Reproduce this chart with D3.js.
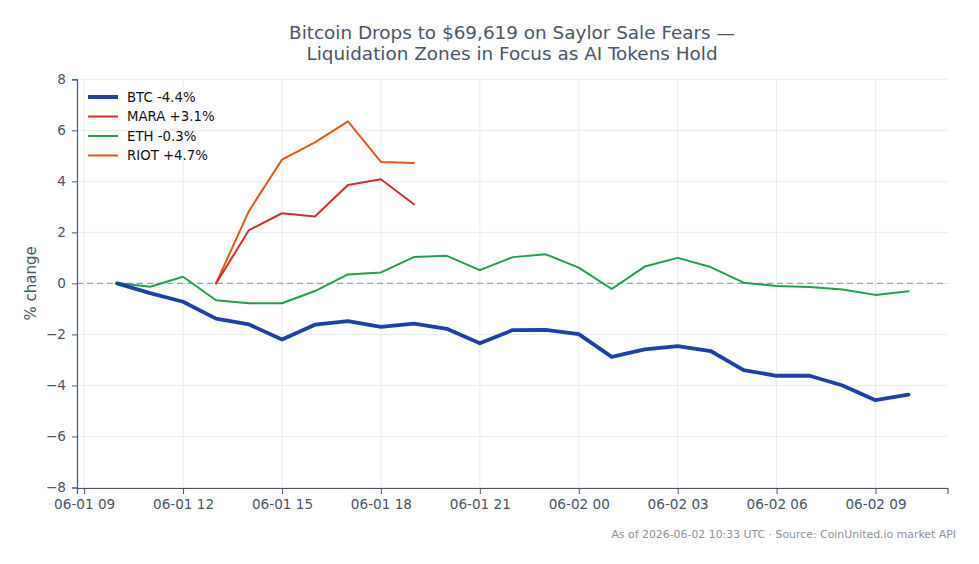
<!DOCTYPE html>
<html>
<head>
<meta charset="utf-8">
<script src="https://cdn.jsdelivr.net/npm/d3@7"></script>
<style>
html,body{margin:0;padding:0;background:#fff;}
svg{display:block;font-family:"DejaVu Sans",sans-serif;}
</style>
</head>
<body>
<svg id="chart" width="979" height="564"></svg>
<script>
// ---- data ----
const btcTimes = ["2026-06-01T10:00Z","2026-06-01T11:00Z","2026-06-01T12:00Z","2026-06-01T13:00Z","2026-06-01T14:00Z","2026-06-01T15:00Z","2026-06-01T16:00Z","2026-06-01T17:00Z","2026-06-01T18:00Z","2026-06-01T19:00Z","2026-06-01T20:00Z","2026-06-01T21:00Z","2026-06-01T22:00Z","2026-06-01T23:00Z","2026-06-02T00:00Z","2026-06-02T01:00Z","2026-06-02T02:00Z","2026-06-02T03:00Z","2026-06-02T04:00Z","2026-06-02T05:00Z","2026-06-02T06:00Z","2026-06-02T07:00Z","2026-06-02T08:00Z","2026-06-02T09:00Z","2026-06-02T10:00Z"];
const btcValues = [0.0,-0.38,-0.72,-1.38,-1.61,-2.2,-1.62,-1.48,-1.70,-1.58,-1.78,-2.35,-1.83,-1.82,-1.99,-2.88,-2.59,-2.46,-2.65,-3.40,-3.62,-3.62,-4.0,-4.58,-4.36];
const ethValues = [0.02,-0.13,0.26,-0.66,-0.78,-0.78,-0.30,0.35,0.43,1.03,1.08,0.52,1.03,1.14,0.62,-0.22,0.66,1.0,0.64,0.03,-0.1,-0.14,-0.24,-0.45,-0.31];
const stockTimes = ["2026-06-01T13:00Z","2026-06-01T14:00Z","2026-06-01T15:00Z","2026-06-01T16:00Z","2026-06-01T17:00Z","2026-06-01T18:00Z","2026-06-01T19:00Z"];
const maraValues = [0.0,2.09,2.75,2.62,3.86,4.08,3.10];
const riotValues = [0.0,2.84,4.85,5.53,6.35,4.76,4.72];
const seriesNames = ["BTC -4.4%","MARA +3.1%","ETH -0.3%","RIOT +4.7%"];
const yTicks = [-8,-6,-4,-2,0,2,4,6,8];
const xTickTimes = ["2026-06-01T09:00Z","2026-06-01T12:00Z","2026-06-01T15:00Z","2026-06-01T18:00Z","2026-06-01T21:00Z","2026-06-02T00:00Z","2026-06-02T03:00Z","2026-06-02T06:00Z","2026-06-02T09:00Z"];
const xDomain = ["2026-06-01T08:47Z","2026-06-02T11:11Z"];
const titleLines = ["Bitcoin Drops to $69,619 on Saylor Sale Fears —","Liquidation Zones in Focus as AI Tokens Hold"];
const yLabel = "% change";
const sourceNote = "As of 2026-06-02 10:33 UTC · Source: CoinUnited.io market API";

// ---- layout ----
const svg = d3.select("#chart");
const margin = {left:77, right:979-947.5, top:79.3, bottom:564-487.5};
const W = 979, H = 564;
const parse = s => new Date(s);
const x = d3.scaleUtc().domain(xDomain.map(parse)).range([margin.left, W-margin.right]);
const y = d3.scaleLinear().domain([-8,8]).range([H-margin.bottom, margin.top]);
const textColor = "#4a5568";
const axisColor = "#4a5668";
const gridColor = "#e8ebf0";

// grid
const g = svg.append("g");
g.selectAll(".gy").data(yTicks).join("line")
  .attr("x1", margin.left).attr("x2", W-margin.right)
  .attr("y1", d=>y(d)).attr("y2", d=>y(d))
  .attr("stroke", gridColor).attr("stroke-width",1);
g.selectAll(".gx").data(xTickTimes.map(parse)).join("line")
  .attr("x1", d=>x(d)).attr("x2", d=>x(d))
  .attr("y1", margin.top).attr("y2", H-margin.bottom)
  .attr("stroke", gridColor).attr("stroke-width",1);

// zero line
svg.append("line")
  .attr("x1", margin.left).attr("x2", W-margin.right)
  .attr("y1", y(0)).attr("y2", y(0))
  .attr("stroke","#94a3b8").attr("stroke-width",1.2).attr("stroke-dasharray","6,4");

// axes
const fmtTime = d3.utcFormat("%m-%d %H");
const xAxis = d3.axisBottom(x).tickValues(xTickTimes.map(parse)).tickFormat(fmtTime).tickSize(6).tickPadding(5);
const yAxis = d3.axisLeft(y).tickValues(yTicks).tickFormat(d => d<0 ? "\u2212"+Math.abs(d) : String(d)).tickSize(5).tickPadding(6);
const gx = svg.append("g").attr("transform",`translate(0,${H-margin.bottom+0.5})`).call(xAxis);
const gy = svg.append("g").attr("transform",`translate(${margin.left},0)`).call(yAxis);
[gx,gy].forEach(a=>{
  a.select(".domain").attr("stroke",axisColor).attr("stroke-width",1.2);
  a.selectAll(".tick line").attr("stroke",axisColor);
  a.selectAll(".tick text").attr("fill",textColor).style("font-size","13.6px").style("font-family","DejaVu Sans");
});

// lines
const series = [
  {name:seriesNames[0], times:btcTimes, values:btcValues, color:"#1e40af", width:3.8},
  {name:seriesNames[1], times:stockTimes, values:maraValues, color:"#d0302f", width:2},
  {name:seriesNames[2], times:btcTimes, values:ethValues, color:"#1fa04a", width:2},
  {name:seriesNames[3], times:stockTimes, values:riotValues, color:"#e4581a", width:2}
];
const line = d3.line().x(d=>x(d[0])).y(d=>y(d[1]));
const drawOrder = [2,3,1,0];
drawOrder.forEach(i=>{
  const s = series[i];
  svg.append("path")
    .datum(s.times.map((t,k)=>[parse(t), s.values[k]]))
    .attr("d", line).attr("fill","none")
    .attr("stroke", s.color).attr("stroke-width", s.width)
    .attr("stroke-linejoin","round").attr("stroke-linecap","round");
});

// legend
const lg = svg.append("g");
series.forEach((s,i)=>{
  const yy = 97 + i*19.5;
  lg.append("line").attr("x1",88).attr("x2",118).attr("y1",yy).attr("y2",yy)
    .attr("stroke",s.color).attr("stroke-width", i===0?4:2);
  lg.append("text").attr("x",127).attr("y",yy).attr("dy","0.35em")
    .attr("fill","#111").style("font-size","13.3px").text(s.name);
});

// title
svg.append("text").attr("x",512).attr("y",39).attr("text-anchor","middle")
  .attr("fill",textColor).style("font-size","18.4px").text(titleLines[0]);
svg.append("text").attr("x",512).attr("y",60).attr("text-anchor","middle")
  .attr("fill",textColor).style("font-size","18.4px").text(titleLines[1]);

// y label
svg.append("text").attr("transform",`translate(36,${y(0)}) rotate(-90)`)
  .attr("text-anchor","middle").attr("fill",textColor).style("font-size","15px").text(yLabel);

// source
svg.append("text").attr("x",956).attr("y",538).attr("text-anchor","end")
  .attr("fill","#8a8f98").style("font-size","10.9px").text(sourceNote);
</script>
</body>
</html>
